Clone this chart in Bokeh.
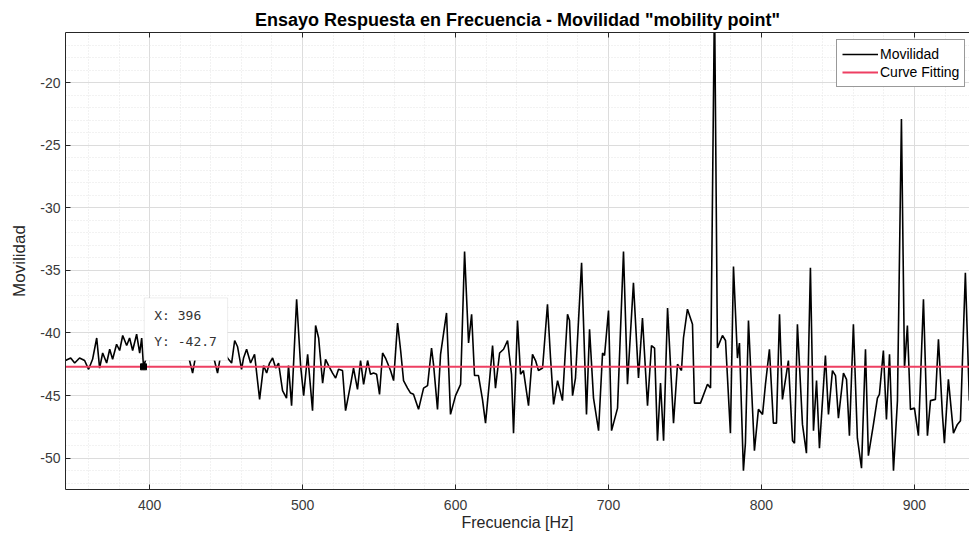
from bokeh.plotting import figure
from bokeh.models import (Range1d, FixedTicker, LinearAxis, Legend, LegendItem,
                          BoxAnnotation, Label, Title)
from bokeh.embed import file_html
from bokeh.resources import INLINE

# ---------------- data ----------------
freq = [345.0, 348.4, 351.0, 354.2, 357.5, 360.1, 362.7, 365.4, 367.3, 369.3, 371.9, 373.9,
        375.8, 378.4, 380.4, 382.4, 385.0, 386.9, 388.9, 391.5, 393.5, 394.8, 396.0,
        399.3, 402.0, 404.6, 407.2, 409.8, 412.4, 415.0, 417.6, 420.3, 422.9, 425.5, 428.1,
        430.7, 433.3, 435.9, 438.6, 441.2, 444.4, 447.1, 449.7,
        451.6, 453.6, 455.6, 457.5, 460.1, 461.4, 463.4, 466.0, 468.6, 471.9,
        474.5, 476.5, 478.4, 480.4, 482.4, 484.3, 486.9, 489.5, 490.8, 492.8,
        496.1, 498.7, 500.7, 503.3, 506.5, 508.5, 510.5, 513.1, 515.0, 517.0,
        519.6, 521.6, 523.5, 526.1, 528.1, 531.4, 533.3, 535.9, 537.9, 539.9,
        542.5, 544.4, 546.4, 548.4, 550.3, 552.3, 554.2, 557.5, 559.5, 562.1,
        564.1, 566.0, 568.6, 570.6, 572.5, 575.8, 579.1, 581.7, 584.3, 585.6,
        588.2, 590.2, 594.1, 596.7, 600.0, 603.3, 605.9, 608.5, 610.5, 612.4,
        615.0, 617.6, 619.6, 622.2, 624.2, 626.1, 628.8, 631.4, 634.0, 636.6,
        637.9, 640.5, 642.5, 644.4, 647.7, 650.3, 652.3,
        654.2, 656.9, 660.1, 662.1, 664.1, 666.7, 669.9, 673.2, 674.5, 676.5,
        678.4, 682.4, 685.6, 687.6, 690.2, 693.5, 696.1, 697.4, 700.0, 702.0,
        705.9, 709.8, 712.4, 716.3, 719.6, 722.2, 725.5, 728.1, 730.1, 732.0,
        734.0, 736.0, 738.6, 742.5, 745.1, 747.7, 749.0, 751.6, 754.9, 756.2,
        760.1, 764.7, 766.7, 769.3, 771.2, 774.5, 776.5, 779.7, 781.7, 784.3,
        785.6, 788.2, 789.5, 791.5, 795.4, 798.0, 800.7, 802.6, 805.2, 807.8,
        809.8, 811.8, 813.7, 817.6, 820.3, 821.6, 823.5, 826.8, 829.4, 832.0,
        834.0, 836.0, 837.9, 841.8, 843.8, 846.4, 848.4, 850.3, 853.6, 855.6,
        857.5, 860.1, 862.7, 865.4, 868.0, 869.9, 873.2, 875.8, 877.1, 879.7,
        881.7, 883.7, 886.3, 888.9, 891.5, 893.5, 895.4, 897.4, 900.0, 902.6,
        905.9, 908.5, 910.5, 913.7, 915.7, 918.3, 919.6, 922.2, 925.5, 928.1,
        930.1, 933.3, 935.9]

movilidad = [-42.2, -42.0, -42.4, -42.0, -42.2, -42.9, -42.1, -40.4, -42.8, -41.6, -42.4, -41.3,
             -42.1, -40.9, -41.4, -40.2, -41.0, -40.4, -41.4, -40.1, -41.6, -40.4, -42.7,
             -41.4, -40.6, -41.8, -41.0, -41.6, -40.5, -41.4, -40.8, -41.8, -41.3, -41.9, -43.2,
             -41.4, -40.6, -41.8, -41.0, -41.6, -43.2, -41.3, -41.8,
             -42.1, -42.4, -40.6, -41.1, -42.9, -42.0, -41.3, -42.4, -41.7, -45.3,
             -42.6, -43.2, -42.4, -42.0, -42.8, -42.4, -44.6, -45.2, -42.6, -45.8,
             -37.3, -42.6, -45.0, -41.7, -46.2, -39.4, -40.4, -44.0, -42.1, -42.6,
             -43.2, -43.6, -42.9, -43.0, -46.2, -44.1, -42.8, -44.5, -42.2, -44.1,
             -42.2, -43.3, -43.2, -43.3, -44.9, -41.6, -42.0, -43.0, -43.8, -39.2,
             -41.4, -43.8, -44.4, -44.8, -44.9, -46.1, -44.4, -44.2, -41.2, -42.5,
             -46.1, -41.7, -38.4, -46.5, -45.0, -44.1, -33.5, -40.8, -38.5, -43.4,
             -43.4, -45.3, -47.2, -43.8, -41.0, -44.4, -41.6, -41.3, -40.6, -43.3,
             -48.0, -39.0, -43.3, -43.0, -45.8, -41.7, -42.2,
             -43.0, -42.8, -37.7, -42.0, -45.7, -43.8, -45.4, -38.5, -39.0, -45.0,
             -43.6, -34.4, -46.5, -39.7, -45.2, -47.8, -41.6, -41.8, -38.2, -47.8,
             -46.0, -33.5, -44.1, -36.0, -43.6, -38.8, -45.8, -41.0, -41.2, -48.6,
             -44.0, -48.6, -38.0, -47.2, -42.5, -43.0, -40.4, -38.1, -39.3, -45.6,
             -45.6, -44.1, -44.4, -13.0, -41.2, -40.2, -40.6, -48.0, -34.7, -42.0,
             -40.8, -51.0, -48.8, -39.0, -49.4, -46.1, -46.5, -44.1, -41.3, -47.2,
             -47.2, -38.5, -45.3, -42.2, -48.6, -48.8, -39.3, -47.3, -49.6, -34.8,
             -47.8, -43.8, -49.2, -41.8, -46.5, -43.0, -43.4, -46.8, -43.2, -43.7,
             -48.2, -39.3, -48.4, -50.8, -41.3, -49.8, -47.3, -45.2, -44.9, -41.4,
             -46.9, -41.7, -51.0, -45.4, -22.9, -42.8, -39.4, -46.1, -46.0, -48.2,
             -37.3, -48.2, -45.4, -45.3, -40.5, -46.5, -48.8, -43.7, -48.0, -47.3,
             -47.0, -35.2, -45.4]

fit_freq = [345.0, 936.0]
fit_val = [-42.7, -42.7]

x_ticks = [400, 500, 600, 700, 800, 900]
y_ticks = [-50, -45, -40, -35, -30, -25, -20]
y_tick_labels = ["-50", "-45", "-40", "-35", "-30", "-25", "-20"]
x_minor = list(range(340, 941, 20))
y_minor = list(range(-53, -15))

tip_x, tip_y = 396, -42.7
tip_texts = ["X: 396", "Y: -42.7"]

title_text = 'Ensayo Respuesta en Frecuencia - Movilidad "mobility point"'

# ---------------- figure ----------------
FONT = "'Liberation Sans', Arial, sans-serif"
AX = "#262626"

p = figure(width=969, height=537, output_backend="svg", toolbar_location=None,
           x_range=Range1d(345, 936), y_range=Range1d(-52.5, -16.0),
           min_border_left=65, min_border_right=0, min_border_top=32,
           min_border_bottom=48, background_fill_color="white",
           border_fill_color="white")
p.outline_line_color = None

p.title = Title(text=title_text, align="center", text_font=FONT,
                text_font_size="18px", text_font_style="bold", text_color="black",
                standoff=5)

p.xaxis.ticker = FixedTicker(ticks=x_ticks, minor_ticks=x_minor)
p.yaxis.ticker = FixedTicker(ticks=y_ticks, minor_ticks=y_minor)
p.yaxis.major_label_overrides = {t: s for t, s in zip(y_ticks, y_tick_labels)}

for ax in (p.xaxis[0], p.yaxis[0]):
    ax.axis_line_color = AX
    ax.axis_line_width = 1
    ax.major_tick_line_color = AX
    ax.major_tick_in = 5
    ax.major_tick_out = 0
    ax.minor_tick_in = 0
    ax.minor_tick_out = 0
    ax.major_label_text_font = FONT
    ax.major_label_text_font_size = "14px"
    ax.major_label_text_color = "#3a3a3a"
    ax.axis_label_text_font = FONT
    ax.axis_label_text_font_style = "normal"
    ax.axis_label_text_color = "#262626"

p.xaxis.axis_label = "Frecuencia [Hz]"
p.yaxis.axis_label = "Movilidad"
p.xaxis.axis_label_text_font_size = "16px"
p.yaxis.axis_label_text_font_size = "17px"
p.xaxis.major_label_standoff = 10
p.xaxis.axis_label_standoff = 1
p.yaxis.major_label_standoff = 5
p.yaxis.axis_label_standoff = 8

top_axis = LinearAxis(ticker=FixedTicker(ticks=x_ticks), axis_line_color=AX,
                      major_tick_line_color=AX, major_tick_in=5, major_tick_out=0,
                      minor_tick_in=0, minor_tick_out=0,
                      major_label_text_color=None,
                      major_label_text_font_size="1px", major_label_standoff=0)
p.add_layout(top_axis, "above")

p.xgrid.grid_line_color = "#dcdcdc"
p.ygrid.grid_line_color = "#dcdcdc"
p.xgrid.minor_grid_line_color = "#e4e4e4"
p.ygrid.minor_grid_line_color = "#e4e4e4"
p.xgrid.minor_grid_line_dash = "1 2"
p.ygrid.minor_grid_line_dash = "1 2"

r_mov = p.line(freq, movilidad, line_color="black", line_width=1.6)
r_fit = p.line(fit_freq, fit_val, line_color="#ee3f62", line_width=2)

# datatip
p.add_layout(BoxAnnotation(left=396.5, right=451.0, bottom=-42.2, top=-37.2,
                           fill_color="white", fill_alpha=1.0,
                           line_color="#c4c4c4", line_width=1))
p.add_layout(Label(x=396.5, y=-37.2, x_offset=10, y_offset=-18, text=tip_texts[0],
                   text_baseline="middle", text_align="left",
                   text_font="'DejaVu Sans Mono', monospace", text_font_size="13px",
                   text_color="#333333"))
p.add_layout(Label(x=396.5, y=-37.2, x_offset=10, y_offset=-44, text=tip_texts[1],
                   text_baseline="middle", text_align="left",
                   text_font="'DejaVu Sans Mono', monospace", text_font_size="13px",
                   text_color="#333333"))
p.scatter([tip_x], [tip_y], marker="square", size=6, fill_color="black",
          line_color="black")

legend = Legend(items=[LegendItem(label="Movilidad", renderers=[r_mov]),
                       LegendItem(label="Curve Fitting", renderers=[r_fit])],
                location=(771, 402), glyph_width=36, glyph_height=18,
                label_height=18, label_standoff=2, padding=5, spacing=0, margin=0,
                label_text_font=FONT, label_text_font_size="14px",
                label_text_color="black", border_line_color="#333333",
                border_line_width=1, background_fill_color="white",
                background_fill_alpha=1.0)
p.add_layout(legend, "center")

open("out.html", "w").write(file_html(p, INLINE))
